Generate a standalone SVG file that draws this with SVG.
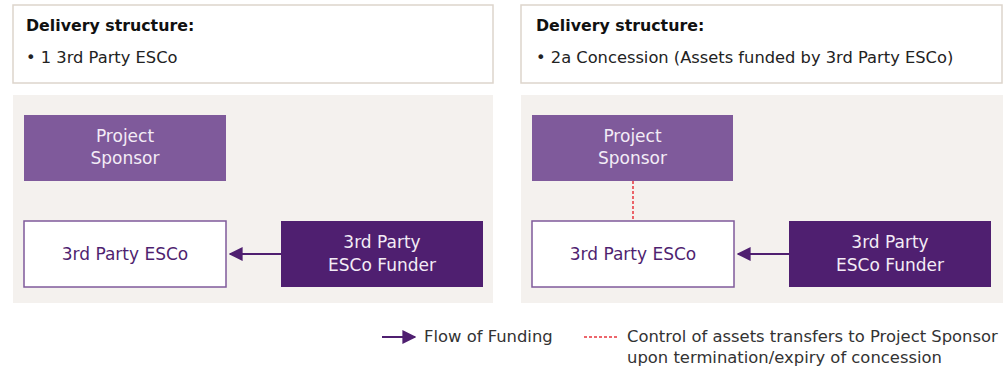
<svg xmlns="http://www.w3.org/2000/svg" width="1003" height="369" viewBox="0 0 1003 369">
<defs>
<style>
.hdr{fill:#fff;stroke:#ddd5cc;stroke-width:1.5}
.panel{fill:#f4f1ee}
.sp{fill:#7f5a9b}
.es{fill:#fff;stroke:#7f5a9b;stroke-width:1.5}
.fu{fill:#4f1f70}
text{font-family:"DejaVu Sans","Noto Sans",sans-serif}
.ht{font-size:15.8px;font-weight:bold;fill:#111}
.bt{font-size:16.3px;fill:#222}
.wt{font-size:17px;fill:#f3ecf6;text-anchor:middle}
.pt{font-size:17px;fill:#4f1f70;text-anchor:middle}
.lt{font-size:16.4px;fill:#333}
.flow{stroke:#4f1f70;stroke-width:2;fill:none}
.ctl{stroke:#e8343c;stroke-width:1.5;stroke-dasharray:3 2;fill:none}
</style>
<marker id="ah" viewBox="0 0 10 10" refX="9" refY="5" markerWidth="14" markerHeight="14" markerUnits="userSpaceOnUse" orient="auto">
<path d="M0,0 L10,5 L0,10 z" fill="#4f1f70"/>
</marker>
</defs>
<g id="header-left">
<rect class="hdr" x="13" y="5" width="480" height="78"/>
<text class="ht" x="26" y="31">Delivery structure:</text>
<text class="bt" x="26" y="63">• 1 3rd Party ESCo</text>
</g>
<g id="header-right">
<rect class="hdr" x="521" y="5" width="481" height="78"/>
<text class="ht" x="536" y="31">Delivery structure:</text>
<text class="bt" x="536" y="63">• 2a Concession (Assets funded by 3rd Party ESCo)</text>
</g>
<rect class="panel" x="13" y="95" width="480" height="208"/>
<rect class="panel" x="521" y="95" width="482" height="208"/>
<g id="left-sponsor">
<rect class="sp" x="24" y="115" width="202" height="66"/>
<text class="wt" x="125" y="142">Project</text>
<text class="wt" x="125" y="164">Sponsor</text>
</g>
<g id="left-esco">
<rect class="es" x="24" y="221" width="202" height="66"/>
<text class="pt" x="125" y="260">3rd Party ESCo</text>
</g>
<g id="left-funder">
<rect class="fu" x="281" y="221" width="202" height="66"/>
<text class="wt" x="382" y="248">3rd Party</text>
<text class="wt" x="382" y="271">ESCo Funder</text>
</g>
<g id="right-sponsor">
<rect class="sp" x="532" y="115" width="201" height="66"/>
<text class="wt" x="632.5" y="142">Project</text>
<text class="wt" x="632.5" y="164">Sponsor</text>
</g>
<g id="right-esco">
<rect class="es" x="532" y="221" width="202" height="66"/>
<text class="pt" x="633" y="260">3rd Party ESCo</text>
</g>
<g id="right-funder">
<rect class="fu" x="789" y="221" width="202" height="66"/>
<text class="wt" x="890" y="248">3rd Party</text>
<text class="wt" x="890" y="271">ESCo Funder</text>
</g>
<g id="connectors">
<line class="flow" x1="281" y1="254" x2="230" y2="254" marker-end="url(#ah)"/>
<line class="flow" x1="789" y1="254" x2="738" y2="254" marker-end="url(#ah)"/>
<line class="ctl" x1="633" y1="181" x2="633" y2="221"/>
</g>
<g id="legend">
<line class="flow" x1="382" y1="337" x2="415" y2="337" marker-end="url(#ah)"/>
<text class="lt" x="424" y="342">Flow of Funding</text>
<line class="ctl" x1="584" y1="337" x2="618" y2="337"/>
<text class="lt" x="627" y="342">Control of assets transfers to Project Sponsor</text>
<text class="lt" x="627" y="363">upon termination/expiry of concession</text>
</g>
</svg>
